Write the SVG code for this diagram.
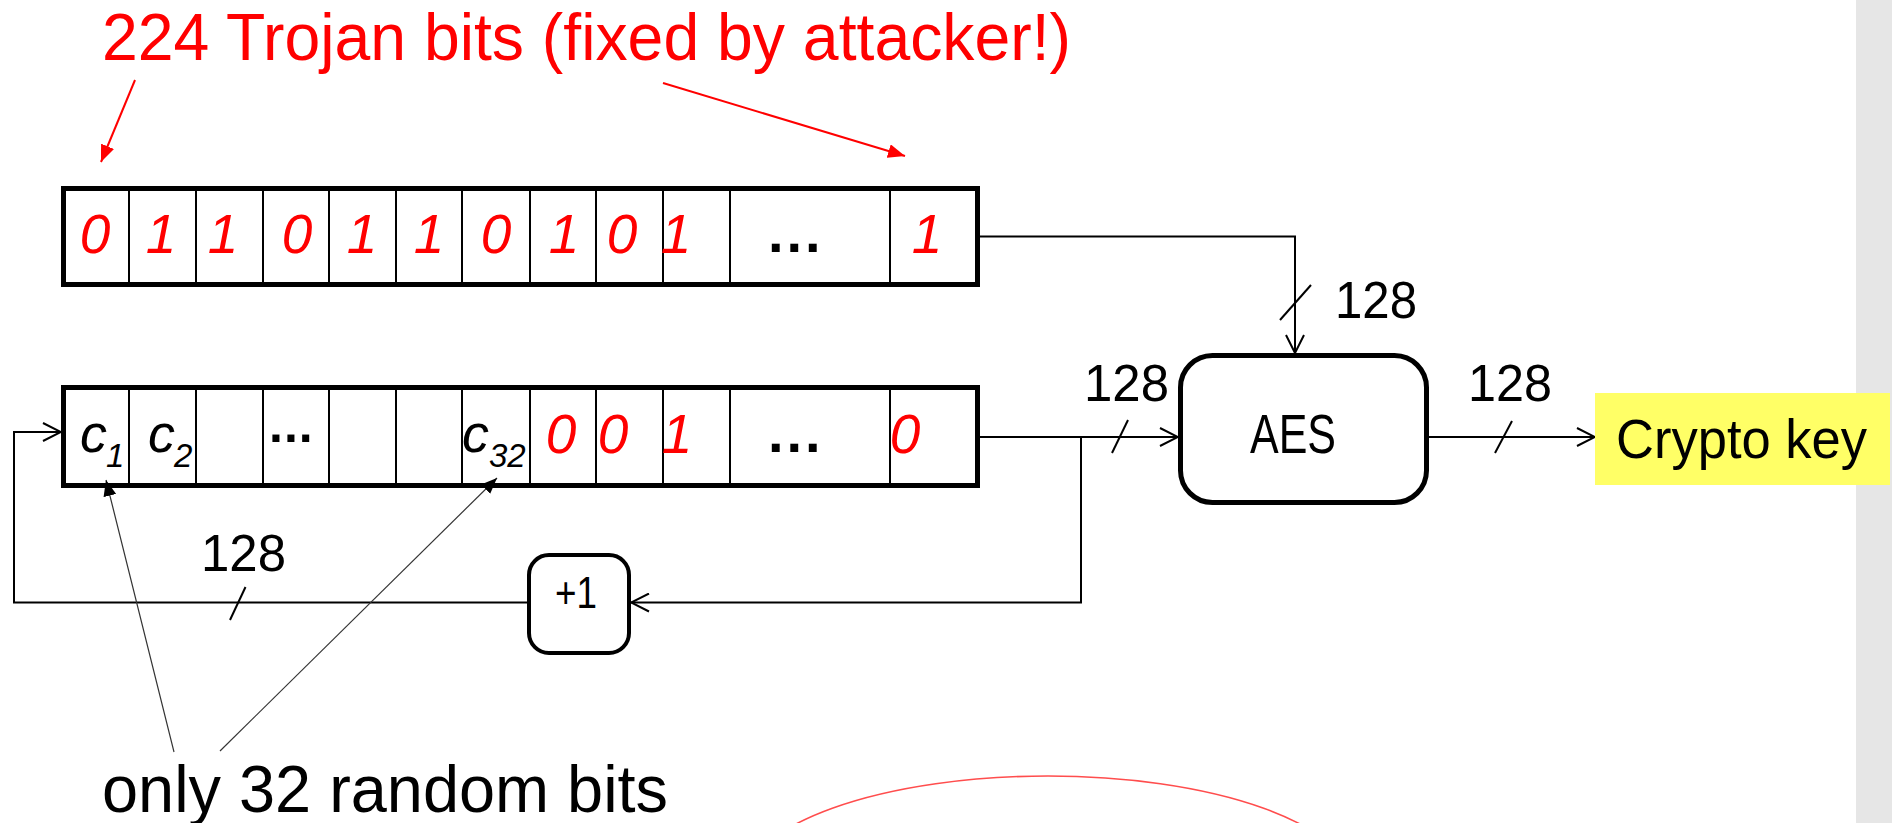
<svg xmlns="http://www.w3.org/2000/svg" width="1892" height="823" viewBox="0 0 1892 823">
<style>
.txt{font-family:"Liberation Sans",Arial,sans-serif}
.red{fill:#ff0000}
.blk{fill:#000}
.bit{font-family:"Liberation Sans",Arial,sans-serif;font-style:italic;font-size:55px;fill:#ff0000;text-anchor:middle}
.cv{font-family:"Liberation Sans",Arial,sans-serif;font-style:italic;font-size:54px;fill:#000}
.sub{font-family:"Liberation Sans",Arial,sans-serif;font-style:italic;font-size:33px;fill:#000}
.dots{font-family:"Liberation Sans",Arial,sans-serif;font-weight:bold;font-size:56px;letter-spacing:3px;fill:#000}
.num{font-family:"Liberation Sans",Arial,sans-serif;font-size:51px;fill:#000}
.reg{fill:#fff;stroke:#000;stroke-width:5}
.div{stroke:#000;stroke-width:2}
.conn{fill:none;stroke:#000;stroke-width:2}
.slash{stroke:#000;stroke-width:2}
.box{fill:#fff;stroke:#000;stroke-width:5}
.ann{fill:none;stroke:#333;stroke-width:1.2}
.rarr{fill:none;stroke:#ff0000;stroke-width:2}
</style>
<defs>
<marker id="open" viewBox="0 0 20 20" refX="20" refY="10" markerWidth="20" markerHeight="20" markerUnits="userSpaceOnUse" orient="auto">
<path d="M2,1 L20,10 L2,19" fill="none" stroke="#000" stroke-width="2"/>
</marker>
<marker id="fillBlack" viewBox="0 0 16 13" refX="16" refY="6.5" markerWidth="16" markerHeight="13" markerUnits="userSpaceOnUse" orient="auto">
<path d="M0,0 L16,6.5 L0,13 z" fill="#000"/>
</marker>
<marker id="fillRed" viewBox="0 0 17 14" refX="17" refY="7" markerWidth="17" markerHeight="14" markerUnits="userSpaceOnUse" orient="auto">
<path d="M0,0 L17,7 L0,14 z" fill="#ff0000"/>
</marker>
</defs>
<rect width="1892" height="823" fill="#fff"/>
<rect id="side-panel" x="1856" y="0" width="36" height="823" fill="#e6e6e6"/>

<g id="title">
<text class="txt red" x="102" y="60" font-size="66" textLength="969" lengthAdjust="spacingAndGlyphs">224 Trojan bits (fixed by attacker!)</text>
<line class="rarr" x1="135" y1="80" x2="101" y2="162" marker-end="url(#fillRed)"/>
<line class="rarr" x1="663" y1="83" x2="905" y2="156" marker-end="url(#fillRed)"/>
</g>

<g id="reg-top">
<rect class="reg" x="63.5" y="188.5" width="914" height="96"/>
<line class="div" x1="129" y1="188.5" x2="129" y2="284.5"/>
<line class="div" x1="196" y1="188.5" x2="196" y2="284.5"/>
<line class="div" x1="263" y1="188.5" x2="263" y2="284.5"/>
<line class="div" x1="329" y1="188.5" x2="329" y2="284.5"/>
<line class="div" x1="396" y1="188.5" x2="396" y2="284.5"/>
<line class="div" x1="462" y1="188.5" x2="462" y2="284.5"/>
<line class="div" x1="530" y1="188.5" x2="530" y2="284.5"/>
<line class="div" x1="596" y1="188.5" x2="596" y2="284.5"/>
<line class="div" x1="663" y1="188.5" x2="663" y2="284.5"/>
<line class="div" x1="730" y1="188.5" x2="730" y2="284.5"/>
<line class="div" x1="890" y1="188.5" x2="890" y2="284.5"/>
<text class="bit" x="95" y="253">0</text>
<text class="bit" x="161" y="253">1</text>
<text class="bit" x="223" y="253">1</text>
<text class="bit" x="297" y="253">0</text>
<text class="bit" x="362" y="253">1</text>
<text class="bit" x="429" y="253">1</text>
<text class="bit" x="496" y="253">0</text>
<text class="bit" x="564" y="253">1</text>
<text class="bit" x="622" y="253">0</text>
<text class="bit" x="676" y="253">1</text>
<text class="dots" x="768" y="252">...</text>
<text class="bit" x="927" y="253">1</text>
</g>

<g id="reg-bottom">
<rect class="reg" x="63.5" y="387.5" width="914" height="98"/>
<line class="div" x1="129" y1="387.5" x2="129" y2="485.5"/>
<line class="div" x1="196" y1="387.5" x2="196" y2="485.5"/>
<line class="div" x1="263" y1="387.5" x2="263" y2="485.5"/>
<line class="div" x1="329" y1="387.5" x2="329" y2="485.5"/>
<line class="div" x1="396" y1="387.5" x2="396" y2="485.5"/>
<line class="div" x1="462" y1="387.5" x2="462" y2="485.5"/>
<line class="div" x1="530" y1="387.5" x2="530" y2="485.5"/>
<line class="div" x1="596" y1="387.5" x2="596" y2="485.5"/>
<line class="div" x1="663" y1="387.5" x2="663" y2="485.5"/>
<line class="div" x1="730" y1="387.5" x2="730" y2="485.5"/>
<line class="div" x1="890" y1="387.5" x2="890" y2="485.5"/>
<text class="cv" x="80" y="452">c</text><text class="sub" x="106" y="467">1</text>
<text class="cv" x="148" y="452">c</text><text class="sub" x="174" y="467">2</text>
<text class="dots" x="269" y="442" style="font-size:50px;letter-spacing:1px">...</text>
<text class="cv" x="462" y="452">c</text><text class="sub" x="489" y="467">32</text>
<text class="bit" x="561" y="453">0</text>
<text class="bit" x="613" y="453">0</text>
<text class="bit" x="677" y="453">1</text>
<text class="dots" x="768" y="452">...</text>
<text class="bit" x="905" y="453">0</text>
</g>

<g id="aes">
<rect class="box" x="1180.5" y="355.5" width="246" height="147" rx="32" ry="32"/>
<text class="txt blk" x="1250" y="453" font-size="55" textLength="86" lengthAdjust="spacingAndGlyphs">AES</text>
</g>

<g id="plus1">
<rect class="box" x="529" y="555" width="100" height="98" rx="20" ry="20" style="stroke-width:4"/>
<text class="txt blk" x="555" y="608" font-size="44" textLength="42" lengthAdjust="spacingAndGlyphs">+1</text>
</g>

<g id="crypto-key">
<rect x="1595" y="393" width="295" height="92" fill="#ffff66"/>
<text class="txt blk" x="1616" y="458" font-size="56" textLength="251" lengthAdjust="spacingAndGlyphs">Crypto key</text>
</g>

<g id="connectors">
<path class="conn" d="M980,236.5 H1295 V353" marker-end="url(#open)"/>
<path class="conn" d="M980,437 H1178" marker-end="url(#open)"/>
<path class="conn" d="M1081,437 V602.5 H631" marker-end="url(#open)"/>
<path class="conn" d="M527,602.5 H14 V432 H61" marker-end="url(#open)"/>
<path class="conn" d="M1429,437 H1595" marker-end="url(#open)"/>
<line class="slash" x1="1280" y1="320" x2="1311" y2="285"/>
<line class="slash" x1="1112" y1="453" x2="1128" y2="420"/>
<line class="slash" x1="1495" y1="453" x2="1512" y2="421"/>
<line class="slash" x1="230" y1="620" x2="245.5" y2="587"/>
</g>

<g id="labels">
<text class="num" x="1335" y="318" textLength="82" lengthAdjust="spacingAndGlyphs">128</text>
<text class="num" x="1084" y="401" textLength="85" lengthAdjust="spacingAndGlyphs">128</text>
<text class="num" x="1468" y="401" textLength="84" lengthAdjust="spacingAndGlyphs">128</text>
<text class="num" x="201" y="571" textLength="85" lengthAdjust="spacingAndGlyphs">128</text>
</g>

<g id="random-note">
<text class="txt blk" x="102" y="812" font-size="66" textLength="566" lengthAdjust="spacingAndGlyphs">only 32 random bits</text>
<line class="ann" x1="174" y1="752" x2="106" y2="480" marker-end="url(#fillBlack)"/>
<line class="ann" x1="220" y1="751" x2="497" y2="478" marker-end="url(#fillBlack)"/>
</g>

<ellipse id="red-ellipse" cx="1048" cy="886" rx="305" ry="110" fill="none" stroke="#ff4d4d" stroke-width="1.6"/>
</svg>
